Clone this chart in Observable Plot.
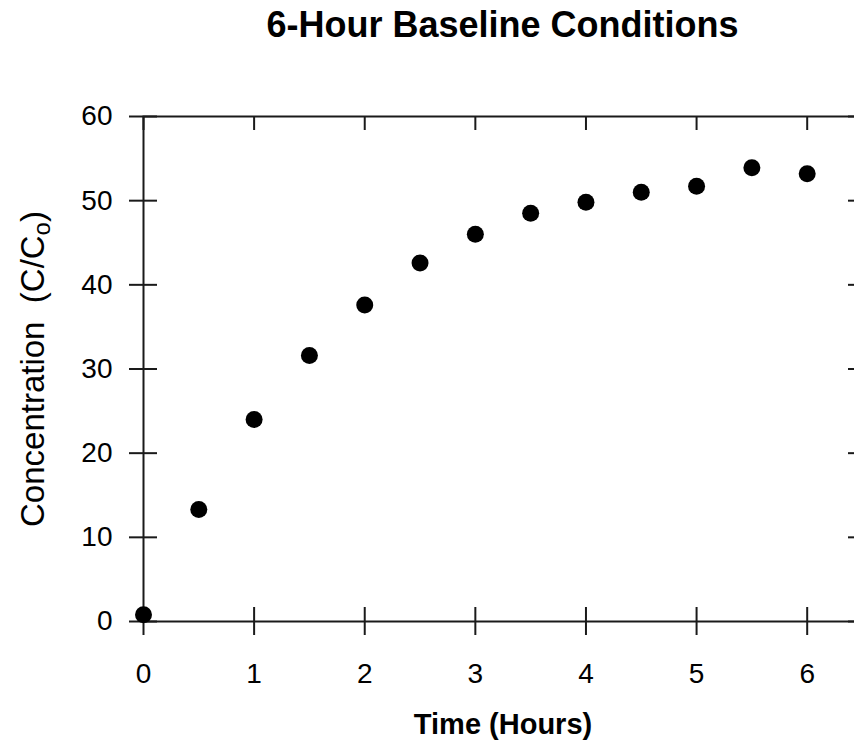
<!DOCTYPE html>
<html><head><meta charset="utf-8">
<script src="https://cdn.jsdelivr.net/npm/d3@7"></script>
<script src="https://cdn.jsdelivr.net/npm/@observablehq/plot@0.6"></script>
<style>
body{margin:0;background:#fff;}
#wrap{width:854px;height:746px;overflow:hidden;position:relative;background:#fff;}
#title{margin:0 0 0 143px;width:719px;height:56px;text-align:center;font:bold 36px "Liberation Sans",Arial,Helvetica,sans-serif;line-height:49px;color:#000;white-space:nowrap;}
</style></head><body>
<div id="wrap"><div id="title"></div><div id="chart"></div></div>
<script>
// ---- data ----
const titleText = "6-Hour Baseline Conditions";
const xLabel = "Time (Hours)";
const yLabelMain = "Concentration  (C/C";
const yLabelSub = "o";
const yLabelEnd = ")";
const hours = [0, 0.5, 1, 1.5, 2, 2.5, 3, 3.5, 4, 4.5, 5, 5.5, 6];
const concentration = [0.8, 13.3, 24.0, 31.6, 37.6, 42.6, 46.0, 48.5, 49.8, 51.0, 51.7, 53.9, 53.2];
const xTicks = [0, 1, 2, 3, 4, 5, 6];
const yTicks = [0, 10, 20, 30, 40, 50, 60];
const xDomain = [0, 6.5];
const yDomain = [0, 60];

document.getElementById("title").textContent = titleText;

const W = 870, H = 690, mL = 143, mR = 8, mT = 60, mB = 125;
const pw = W - mL - mR, ph = H - mT - mB;
const tk = 14;
const ink = "#1a1a1a";
const data = hours.map((h, i) => ({h, c: concentration[i]}));
const yLabel = yLabelMain + yLabelSub + yLabelEnd;

const plot = Plot.plot({
  width: W, height: H,
  marginLeft: mL, marginRight: mR, marginTop: mT, marginBottom: mB,
  style: {fontFamily: '"Liberation Sans", Arial, Helvetica, sans-serif', fontSize: "28px", color: "#000", background: "#fff", maxWidth: "none", overflow: "visible"},
  x: {domain: xDomain},
  y: {domain: yDomain},
  marks: [
    Plot.axisX(xTicks, {tickSize: 0, tickPadding: 42, tickFormat: d => String(d), label: null}),
    Plot.axisY(yTicks, {tickSize: 0, tickPadding: 31, tickFormat: d => String(d), label: null}),
    Plot.tickX(xTicks, {x: d => d, insetTop: ph - tk, insetBottom: -tk, stroke: ink, strokeWidth: 2}),
    Plot.tickX(xTicks, {x: d => d, insetBottom: ph - tk, stroke: ink, strokeWidth: 2}),
    Plot.tickY(yTicks, {y: d => d, insetLeft: -tk, insetRight: pw - tk, stroke: ink, strokeWidth: 2}),
    Plot.tickY(yTicks, {y: d => d, insetLeft: pw - tk, stroke: ink, strokeWidth: 2}),
    Plot.frame({stroke: ink, strokeWidth: 2}),
    Plot.dot(data, {x: "h", y: "c", r: 8.5, fill: "#000", stroke: "none"}),
    Plot.text([xLabel], {text: d => d, frameAnchor: "bottom", dy: 112, lineAnchor: "bottom", fontSize: 29, fontWeight: "bold", fill: "#000"}),
    Plot.text([yLabel], {text: d => d, frameAnchor: "left", textAnchor: "middle", rotate: -90, dx: -100, lineAnchor: "bottom", fontSize: 33, fill: "#000"})
  ]
});

plot.querySelectorAll("text").forEach(t => {
  if (t.textContent === yLabel) {
    t.textContent = "";
    t.appendChild(document.createTextNode(yLabelMain));
    const ns = "http://www.w3.org/2000/svg";
    const s = document.createElementNS(ns, "tspan");
    s.setAttribute("dy", "6");
    s.setAttribute("font-size", "24");
    s.textContent = yLabelSub;
    t.appendChild(s);
    const e = document.createElementNS(ns, "tspan");
    e.setAttribute("dy", "-6");
    e.textContent = yLabelEnd;
    t.appendChild(e);
  }
});

document.getElementById("chart").appendChild(plot);
</script>
</body></html>
